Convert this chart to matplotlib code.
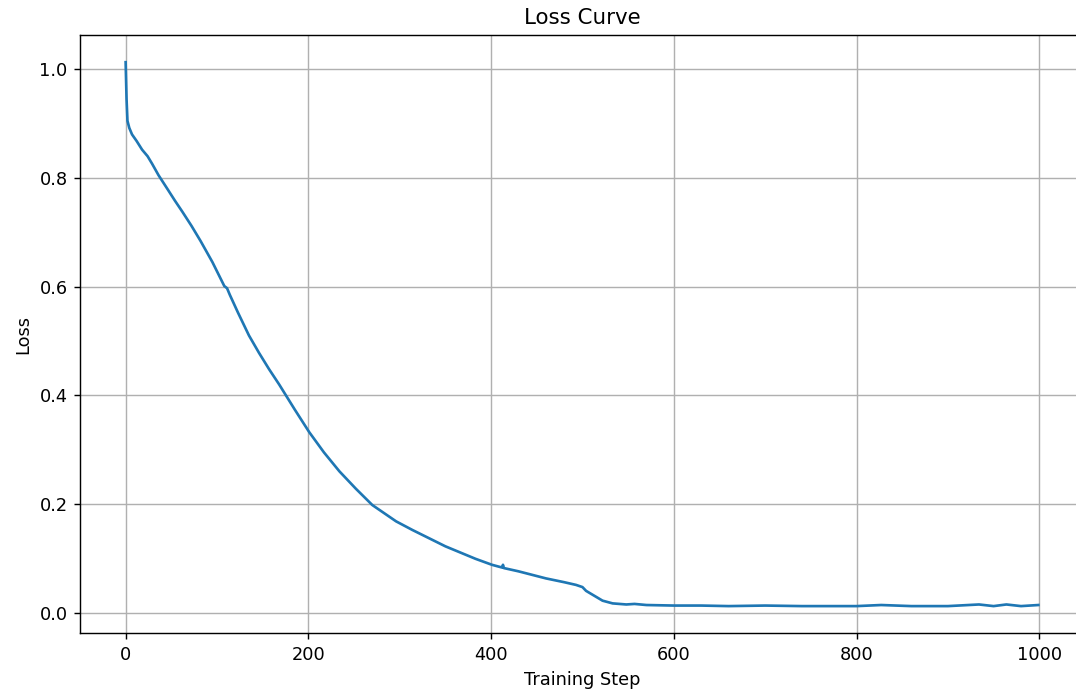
import numpy as np
from matplotlib import pyplot as plt

# Loss values (step, loss)
steps = [0, 1, 2, 4, 7, 12, 18, 24, 29, 36, 46, 54, 62, 72, 82, 95, 108, 111, 114,
         123, 135, 146, 157, 168, 185, 201, 217, 234, 252, 270, 296, 314, 350,
         383, 401, 412, 413, 414, 430, 460, 480, 493, 500, 504, 511, 522, 533,
         548, 557, 570, 600, 630, 660, 700, 740, 760, 800, 827, 860, 900, 934,
         950, 964, 980, 999]
loss = [1.013, 0.945, 0.905, 0.892, 0.880, 0.868, 0.852, 0.840, 0.826, 0.805,
        0.779, 0.758, 0.738, 0.712, 0.684, 0.645, 0.601, 0.597, 0.585,
        0.552, 0.510, 0.478, 0.448, 0.420, 0.374, 0.332, 0.295, 0.260, 0.228,
        0.198, 0.168, 0.152, 0.122, 0.099, 0.088, 0.083, 0.088, 0.082, 0.076,
        0.063, 0.056, 0.051, 0.047, 0.040, 0.033, 0.022, 0.017, 0.015, 0.016,
        0.014, 0.013, 0.013, 0.012, 0.013, 0.012, 0.012, 0.012, 0.014, 0.012,
        0.012, 0.015, 0.012, 0.015, 0.012, 0.014]

steps = np.array(steps)
loss = np.array(loss)

dpi = 128
fig = plt.figure(figsize=(1076 / dpi, 691 / dpi), dpi=dpi)
# right edge of the axes runs past the canvas, like the cropped reference
ax = fig.add_axes([80 / 1076, 57.7 / 691, 1004 / 1076, 598.3 / 691])
ax.spines['right'].set_visible(False)

ax.plot(steps, loss)
ax.set_title("Loss Curve")
ax.set_xlabel("Training Step")
ax.set_ylabel("Loss")
ax.grid(True)

fig.savefig("out.png", dpi=dpi)
